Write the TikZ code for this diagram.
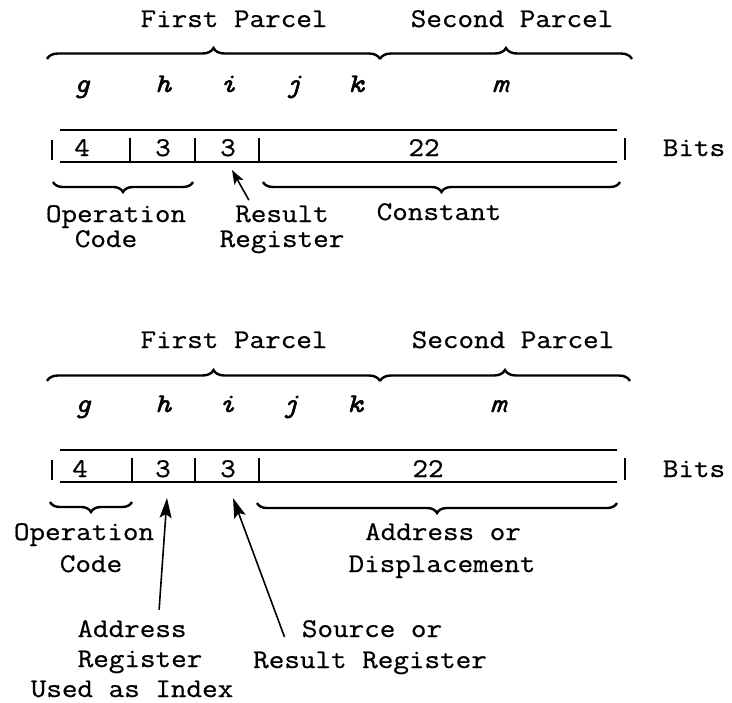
\documentclass[tikz,border=0pt]{standalone}
\usepackage{fontspec}
\setmainfont[FakeStretch=1.12,FakeBold=0.7]{Latin Modern Mono}
\usetikzlibrary{decorations.pathreplacing,arrows.meta}
\tikzset{
  lbl/.style={anchor=base,inner sep=0pt,font=\fontsize{13.5}{16}\selectfont},
  fld/.style={lbl,font=\fontsize{13.5}{16}\selectfont\itshape\addfontfeature{FakeBold=1.8}},
  brc/.style={decorate,decoration={brace,amplitude=5.5pt},line width=1.2pt},
  mbrc/.style={decorate,decoration={brace,mirror,amplitude=5pt},line width=1.2pt},
  rule/.style={line width=0.9pt},
  arr/.style={line width=0.8pt,-{Stealth[length=10pt,width=6pt,inset=2pt]}},
  sarr/.style={line width=0.8pt,-{Stealth[length=7pt,width=5pt,inset=1.5pt]}}
}
\begin{document}
\begin{tikzpicture}[x=0.5pt,y=-0.5pt]
	\useasboundingbox (0,0) rectangle (732,702);

	% first format
	\node[lbl] (fpA) at (234,27) {First Parcel};
	\node[lbl] (spA) at (512,27) {Second Parcel};
	\draw[brc] (47,59) -- (380,59);
	\draw[brc] (380,59) -- (632,59);
	\node[fld] (gA) at (82,92) {g};
	\node[fld] (hA) at (163,92) {h};
	\node[fld] (iA) at (228,92) {i};
	\node[fld] (jA) at (293,92) {j};
	\node[fld] (kA) at (356,92) {k};
	\node[fld] (mA) at (500,92) {m};
	\draw[rule] (60,130) -- (617,130);
	\draw[rule] (60,162) -- (617,162);
	\draw[rule] (52,140) -- (52,160);
	\draw[rule] (130,138) -- (130,162);
	\draw[rule] (195,138) -- (195,162);
	\draw[rule] (259,138) -- (259,162);
	\draw[rule] (625,138) -- (625,160);
	\node[lbl] (gwA) at (82,156) {4};
	\node[lbl] (hwA) at (163,156) {3};
	\node[lbl] (iwA) at (228,156) {3};
	\node[lbl] (mwA) at (424,156) {22};
	\node[lbl] (bitsA) at (694,156) {Bits};
	\draw[mbrc] (53,182) -- (193,182);
	\draw[mbrc] (263,182) -- (620,182);
	\node[lbl] (opA) at (116,222) {Operation};
	\node[lbl] (opB) at (106,247) {Code};
	\node[lbl] (resA) at (282,222) {Result};
	\node[lbl] (resB) at (282,247) {Register};
	\node[lbl] (conA) at (439,220) {Constant};
	\coordinate (tipA) at (232,170);
	\draw[sarr] ([shift={(14,-5)}]resA.north west) -- (tipA);

	% second format
	\node[lbl] (fpB) at (234,348) {First Parcel};
	\node[lbl] (spB) at (513,348) {Second Parcel};
	\draw[brc] (47,381) -- (380,381);
	\draw[brc] (380,381) -- (630,381);
	\node[fld] (gB) at (83,412) {g};
	\node[fld] (hB) at (163,412) {h};
	\node[fld] (iB) at (227,412) {i};
	\node[fld] (jB) at (290,412) {j};
	\node[fld] (kB) at (355,412) {k};
	\node[fld] (mB) at (498,412) {m};
	\draw[rule] (60,450) -- (617,450);
	\draw[rule] (60,482) -- (617,482);
	\draw[rule] (52,460) -- (52,480);
	\draw[rule] (132,458) -- (132,482);
	\draw[rule] (195,458) -- (195,482);
	\draw[rule] (259,458) -- (259,482);
	\draw[rule] (625,458) -- (625,480);
	\node[lbl] (gwB) at (80,477) {4};
	\node[lbl] (hwB) at (163,477) {3};
	\node[lbl] (iwB) at (228,477) {3};
	\node[lbl] (mwB) at (428,477) {22};
	\node[lbl] (bitsB) at (694,477) {Bits};
	\draw[mbrc] (50,502) -- (132,502);
	\draw[mbrc] (257,503) -- (617,503);
	\node[lbl] (opC) at (84,540) {Operation};
	\node[lbl] (opD) at (91,572) {Code};
	\node[lbl] (adrA) at (443,540) {Address or};
	\node[lbl] (adrB) at (442,572) {Displacement};
	\node[lbl] (idxA) at (132,637) {Address};
	\node[lbl] (idxB) at (140,667) {Register};
	\node[lbl] (idxC) at (132,697) {Used as Index};
	\node[lbl] (srcA) at (372,637) {Source or};
	\node[lbl] (srcB) at (370,668) {Result Register};
	\coordinate (tipB) at (167,498);
	\coordinate (tipC) at (233,498);
	\draw[arr] ([shift={(82,-10)}]idxA.north west) -- (tipB);
	\draw[arr] ([shift={(-17,0)}]srcA.base west) -- (tipC);
\end{tikzpicture}
\end{document}
